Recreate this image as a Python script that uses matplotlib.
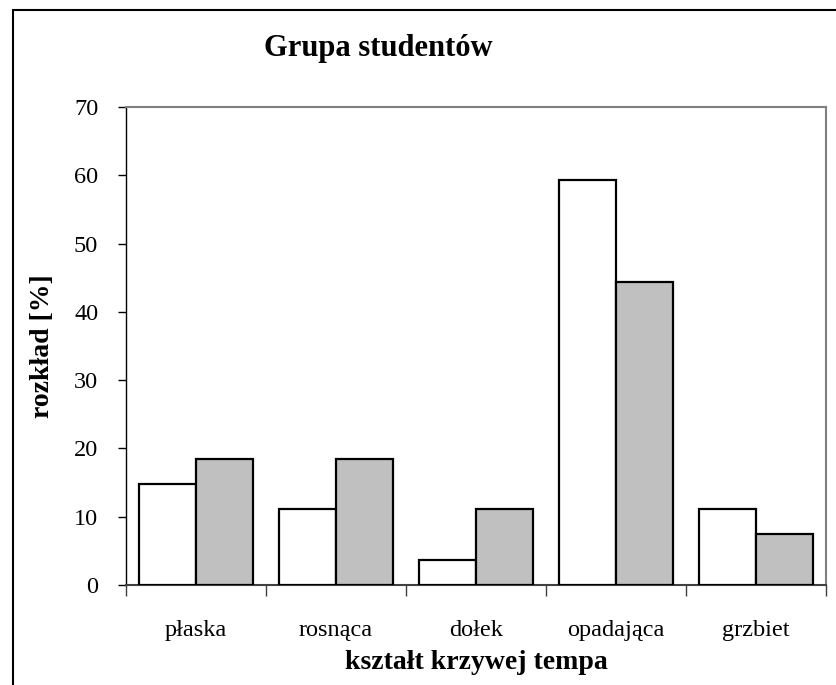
import matplotlib
matplotlib.use("Agg")
import matplotlib.pyplot as plt
from matplotlib.patches import Rectangle
import numpy as np

categories = ["płaska", "rosnąca", "dołek", "opadająca", "grzbiet"]
series_white = [14.8, 11.1, 3.7, 59.3, 11.1]
series_gray = [18.5, 18.5, 11.1, 44.4, 7.4]
yticks = [0, 10, 20, 30, 40, 50, 60, 70]

plt.rcParams['font.family'] = ['Liberation Serif', 'DejaVu Serif']

W, H = 836, 685
fig = plt.figure(figsize=(W / 100, H / 100), dpi=100)
fig.patch.set_facecolor('white')

left, right, top, bottom = 126, 826, 107, 585
ax = fig.add_axes([left / W, 1 - bottom / H, (right - left) / W, (bottom - top) / H])

x = np.arange(len(categories))
bw = 0.405
ax.bar(x - bw / 2, series_white, width=bw, color='white', edgecolor='black', linewidth=1.6, zorder=3)
ax.bar(x + bw / 2, series_gray, width=bw, color='#c0c0c0', edgecolor='black', linewidth=1.6, zorder=3)

ax.set_xlim(-0.5, len(categories) - 0.5)
ax.set_ylim(0, 70)
ax.set_yticks(yticks)
ax.set_yticklabels([str(v) for v in yticks], fontsize=17.5)
ax.tick_params(axis='y', direction='out', length=6, width=1, pad=14, colors='black')

ax.set_xticks(x)
ax.set_xticklabels(categories, fontsize=17.5)
ax.tick_params(axis='x', which='major', length=0, pad=25)
ax.set_xticks(np.arange(-0.5, len(categories), 1.0), minor=True)
ax.tick_params(axis='x', which='minor', direction='out', length=8, width=1, color='#404040')

ax.spines['left'].set_color('black')
ax.spines['left'].set_linewidth(1.0)
ax.spines['bottom'].set_color('#404040')
ax.spines['bottom'].set_linewidth(1.5)
ax.spines['top'].set_color('#808080')
ax.spines['top'].set_linewidth(1.5)
ax.spines['right'].set_color('#808080')
ax.spines['right'].set_linewidth(1.5)

ax.set_xlabel("kształt krzywej tempa", fontsize=20, fontweight='bold', labelpad=7)
ax.set_ylabel("rozkład [%]", fontsize=20, fontweight='bold', labelpad=14)

fig.text(378 / W, 1 - 56 / H, "Grupa studentów", fontsize=22, fontweight='bold',
         ha='center', va='baseline')

fig.add_artist(Rectangle((13 / W, -0.1), 2.0, (H - 10) / H + 0.1, transform=fig.transFigure,
                         fill=False, edgecolor='black', linewidth=1.5))

fig.savefig("out.png", dpi=100, facecolor='white')
